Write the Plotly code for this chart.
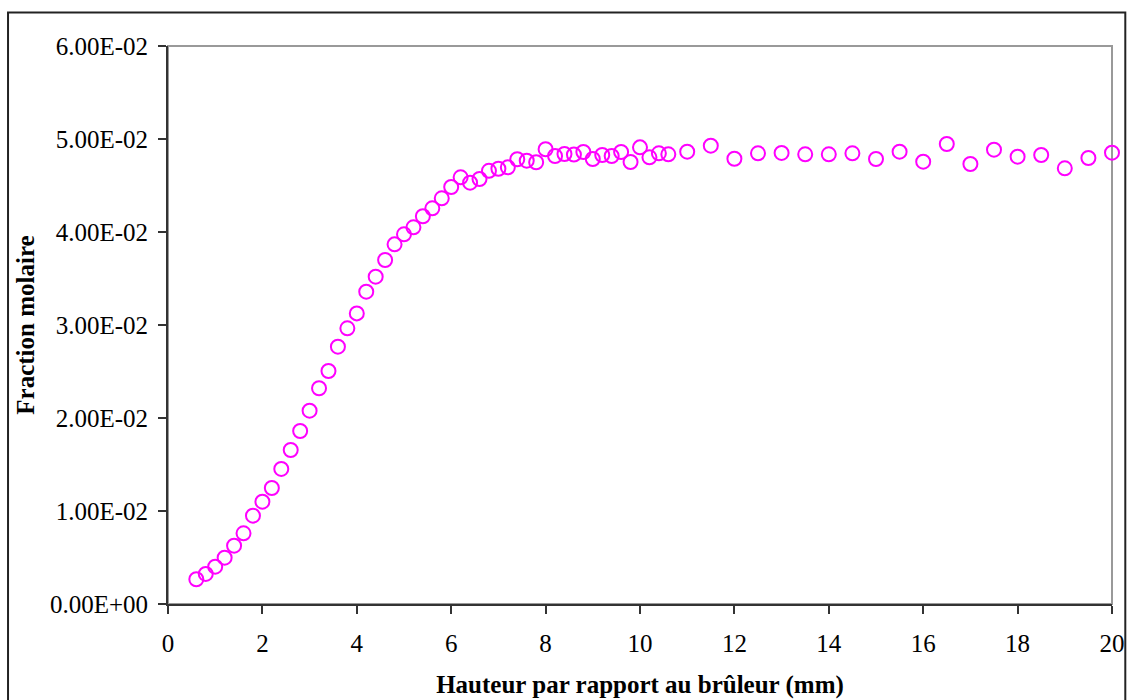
import plotly.graph_objects as go

# Data
hauteur_mm = [0.6, 0.8, 1.0, 1.2, 1.4, 1.6, 1.8, 2.0, 2.2, 2.4, 2.6, 2.8, 3.0, 3.2, 3.4,
              3.6, 3.8, 4.0, 4.2, 4.4, 4.6, 4.8, 5.0, 5.2, 5.4, 5.6, 5.8, 6.0, 6.2, 6.4,
              6.6, 6.8, 7.0, 7.2, 7.4, 7.6, 7.8, 8.0, 8.2, 8.4, 8.6, 8.8, 9.0, 9.2, 9.4,
              9.6, 9.8, 10.0, 10.2, 10.4, 10.6,
              11.0, 11.5, 12.0, 12.5, 13.0, 13.5, 14.0, 14.5, 15.0, 15.5, 16.0, 16.5,
              17.0, 17.5, 18.0, 18.5, 19.0, 19.5, 20.0]
fraction_molaire_pct = [0.266, 0.323, 0.401, 0.498, 0.627, 0.76, 0.95, 1.10, 1.247, 1.452,
                        1.656, 1.86, 2.079, 2.32, 2.505, 2.767, 2.964, 3.125, 3.358, 3.52,
                        3.699, 3.867, 3.975, 4.05, 4.169, 4.255, 4.362, 4.484, 4.588, 4.53,
                        4.57, 4.658, 4.68, 4.695, 4.782, 4.767, 4.75, 4.89, 4.817, 4.839,
                        4.832, 4.86, 4.785, 4.828, 4.817, 4.86, 4.753, 4.91, 4.803, 4.846,
                        4.835,
                        4.864, 4.928, 4.788, 4.846, 4.85, 4.835, 4.835, 4.846, 4.785, 4.864,
                        4.756, 4.946, 4.731, 4.885, 4.81, 4.828, 4.685, 4.796, 4.853]
fraction_molaire = [v / 100.0 for v in fraction_molaire_pct]

y_tick_vals = [0.0, 0.01, 0.02, 0.03, 0.04, 0.05, 0.06]
y_tick_text = ["0.00E+00", "1.00E-02", "2.00E-02", "3.00E-02", "4.00E-02", "5.00E-02", "6.00E-02"]
x_tick_vals = [0, 2, 4, 6, 8, 10, 12, 14, 16, 18, 20]

W, H = 1128, 700
L, R, T, B = 167.5, 16.3, 46, 96
pw = W - L - R
ph = H - T - B

FONT = "Liberation Serif, Times New Roman, serif"
FS = 25

fig = go.Figure()
fig.add_trace(go.Scatter(
    x=hauteur_mm, y=fraction_molaire, mode="markers",
    marker=dict(symbol="circle-open", size=14, color="#FF00FF",
                line=dict(width=2, color="#FF00FF")),
    showlegend=False, cliponaxis=False,
))

def px(xp):
    return (xp - L) / pw

def py(yp):
    return (H - B - yp) / ph

shapes = [
    # plot area border (gray)
    dict(type="rect", xref="paper", yref="paper", x0=0, x1=1, y0=0, y1=1,
         line=dict(color="#999999", width=2), layer="below"),
    # outer chart border
    dict(type="rect", xref="paper", yref="paper", x0=px(7.5), x1=px(1125), y0=py(712), y1=py(12.5),
         line=dict(color="#222222", width=2), layer="below"),
]

fig.update_layout(
    width=W, height=H,
    margin=dict(l=L, r=R, t=T, b=B, autoexpand=False),
    paper_bgcolor="white", plot_bgcolor="white",
    font=dict(family=FONT, size=FS, color="black"),
    shapes=shapes,
    xaxis=dict(
        range=[0, 20], tickvals=x_tick_vals, showgrid=False, zeroline=False,
        showline=True, linecolor="#333333", linewidth=2,
        ticks="outside", ticklen=8, tickwidth=1.5, tickcolor="#333333",
        ticklabelstandoff=8,
        tickfont=dict(family=FONT, size=FS, color="black"),
        title=dict(text="<b>Hauteur par rapport au brûleur (mm)</b>",
                   font=dict(family=FONT, size=FS, color="black"), standoff=19),
    ),
    yaxis=dict(
        range=[0, 0.06], tickvals=y_tick_vals, ticktext=y_tick_text, showgrid=False,
        zeroline=False, showline=True, linecolor="#333333", linewidth=2,
        ticks="outside", ticklen=8, tickwidth=1.5, tickcolor="#333333",
        ticklabelstandoff=5,
        tickfont=dict(family=FONT, size=FS, color="black"),
        title=dict(text="<b>Fraction molaire</b>",
                   font=dict(family=FONT, size=FS, color="black"), standoff=8),
    ),
)

fig.write_html("out.html", config={"displayModeBar": False},
               post_script="document.body.style.margin='0';document.body.style.overflow='hidden';")
